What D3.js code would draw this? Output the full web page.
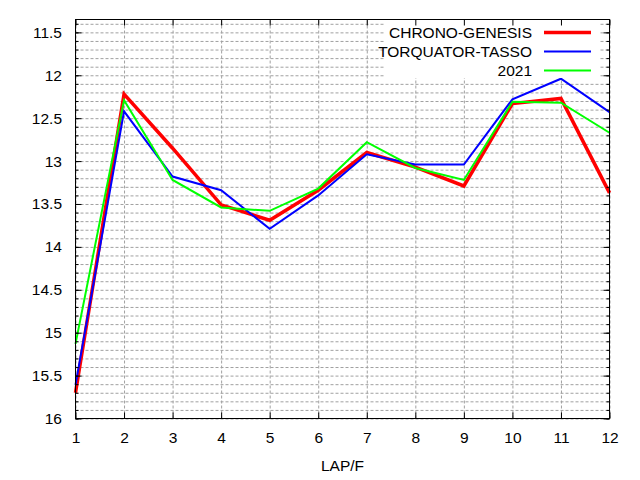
<!DOCTYPE html>
<html>
<head>
<meta charset="utf-8">
<script src="https://d3js.org/d3.v7.min.js"></script>
<style>
  body { margin: 0; background: #fff; }
  text { font-family: "Liberation Sans", Arial, sans-serif; font-size: 15.5px; fill: #000; }
</style>
</head>
<body>
<div id="chart"></div>
<script>
// lap numbers on the x axis
var laps = [1, 2, 3, 4, 5, 6, 7, 8, 9, 10, 11, 12];

// lap times (seconds per furlong)
var chronoGenesis   = [15.70, 12.22, 12.85, 13.51, 13.69, 13.34, 12.90, 13.07, 13.29, 12.33, 12.27, 13.37];
var torquatorTasso  = [15.61, 12.42, 13.18, 13.34, 13.79, 13.40, 12.92, 13.04, 13.04, 12.28, 12.04, 12.43];
var race2021        = [15.13, 12.29, 13.22, 13.54, 13.58, 13.32, 12.78, 13.08, 13.22, 12.31, 12.32, 12.67];

var seriesNames  = ["CHRONO-GENESIS", "TORQUATOR-TASSO", "2021"];
var seriesColors = ["#ff0000", "#0000ff", "#00ff00"];
var seriesWidths = [3.5, 2, 2];

// y tick values
var yMajor = [11.5, 12, 12.5, 13, 13.5, 14, 14.5, 15, 15.5, 16];
var yMinor = d3.range(114, 161).map(function(v) { return v / 10; });

var width = 640, height = 480;
var plotLeft = 75.5, plotRight = 609.5, plotTop = 19.5, plotBottom = 418.5;
var fontSize = 15.5;

var x = d3.scaleLinear().domain([1, 12]).range([plotLeft, plotRight]);
var y = d3.scaleLinear().domain([11.35, 16]).range([plotTop, plotBottom]);

var svg = d3.select("#chart").append("svg")
  .attr("width", width)
  .attr("height", height);

svg.append("rect").attr("width", width).attr("height", height).attr("fill", "#fff");

// grid
var grid = svg.append("g").attr("class", "grid");
grid.append("g")
  .attr("transform", "translate(" + plotLeft + ",0)")
  .call(d3.axisLeft(y).tickValues(yMinor).tickSize(-(plotRight - plotLeft)).tickFormat(""));
grid.append("g")
  .attr("transform", "translate(0," + plotBottom + ")")
  .call(d3.axisBottom(x).tickValues(laps).tickSize(-(plotBottom - plotTop)).tickFormat(""));
grid.selectAll(".domain").remove();
grid.selectAll("line")
  .attr("stroke", "#a0a0a0")
  .attr("stroke-width", 1)
  .attr("stroke-dasharray", "3,2");

// lines
var allSeries = [chronoGenesis, torquatorTasso, race2021];
var line = d3.line()
  .x(function(d, i) { return x(laps[i]); })
  .y(function(d) { return y(d); });

allSeries.forEach(function(s, k) {
  svg.append("path")
    .datum(s)
    .attr("fill", "none")
    .attr("stroke", seriesColors[k])
    .attr("stroke-width", seriesWidths[k])
    .attr("d", line);
});

// legend (opaque box)
var legend = svg.append("g");
legend.append("rect")
  .attr("x", 385).attr("y", 20)
  .attr("width", 215).attr("height", 58)
  .attr("fill", "#fff");
seriesNames.forEach(function(name, k) {
  var ry = 32.5 + k * 19;
  legend.append("text")
    .attr("x", 532)
    .attr("y", ry + 5.5)
    .attr("text-anchor", "end")
    .text(name);
  legend.append("line")
    .attr("x1", 544).attr("x2", 591)
    .attr("y1", ry).attr("y2", ry)
    .attr("stroke", seriesColors[k])
    .attr("stroke-width", seriesWidths[k]);
});

// axes and ticks
function styleAxis(g) {
  g.selectAll(".domain").remove();
  g.selectAll("line").attr("stroke", "#000").attr("stroke-width", 1);
  g.selectAll("text").attr("font-size", fontSize).attr("font-family", "Liberation Sans, Arial, sans-serif").attr("fill", "#000");
}

svg.append("g")
  .attr("transform", "translate(0," + plotBottom + ")")
  .call(d3.axisBottom(x).tickValues(laps).tickSize(-6).tickPadding(13).tickFormat(d3.format("d")))
  .call(styleAxis);
svg.append("g")
  .attr("transform", "translate(0," + plotTop + ")")
  .call(d3.axisTop(x).tickValues(laps).tickSize(-6).tickFormat(""))
  .call(styleAxis);
svg.append("g")
  .attr("transform", "translate(" + plotLeft + ",0)")
  .call(d3.axisLeft(y).tickValues(yMajor).tickSize(-6).tickPadding(13.5).tickFormat(d3.format("")))
  .call(styleAxis);
svg.append("g")
  .attr("transform", "translate(" + plotLeft + ",0)")
  .call(d3.axisLeft(y).tickValues(yMinor).tickSize(-3).tickFormat(""))
  .call(styleAxis);
svg.append("g")
  .attr("transform", "translate(" + plotRight + ",0)")
  .call(d3.axisRight(y).tickValues(yMajor).tickSize(-6).tickFormat(""))
  .call(styleAxis);
svg.append("g")
  .attr("transform", "translate(" + plotRight + ",0)")
  .call(d3.axisRight(y).tickValues(yMinor).tickSize(-3).tickFormat(""))
  .call(styleAxis);

// frame
svg.append("rect")
  .attr("x", plotLeft).attr("y", plotTop)
  .attr("width", plotRight - plotLeft).attr("height", plotBottom - plotTop)
  .attr("fill", "none")
  .attr("stroke", "#000")
  .attr("stroke-width", 1);

// x label
svg.append("text")
  .attr("x", (plotLeft + plotRight) / 2)
  .attr("y", 470.5)
  .attr("text-anchor", "middle")
  .text("LAP/F");
</script>
</body>
</html>
